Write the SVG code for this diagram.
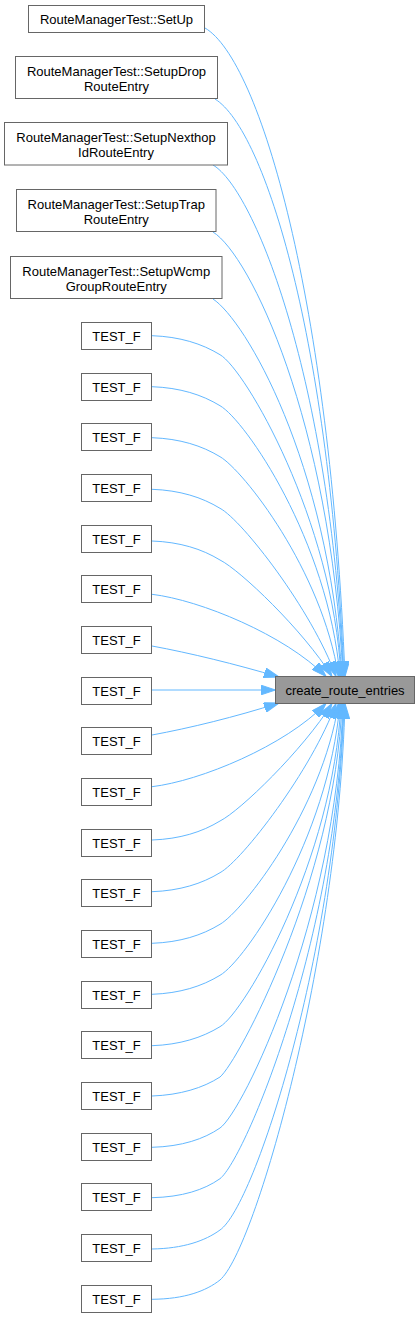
<svg xmlns="http://www.w3.org/2000/svg" width="420" height="1317" viewBox="0 0 420 1317">
<style>
.nd rect{fill:#ffffff;stroke:#666666;stroke-width:1}
.tg rect{fill:#999999;stroke:#666666;stroke-width:1}
text{font-family:"Liberation Sans",Arial,sans-serif;font-size:13px;fill:#000000;text-anchor:middle}
.ed path{fill:none;stroke:#63b8ff;stroke-width:1;marker-end:url(#ah)}
</style>
<defs>
<marker id="ah" markerUnits="userSpaceOnUse" markerWidth="15" markerHeight="10" refX="15" refY="5" orient="auto" viewBox="0 0 15 10">
<path d="M0,0 L15,5 L0,10 Z" fill="#63b8ff" stroke="#63b8ff" stroke-width="1"/>
</marker>
</defs>
<rect width="420" height="1317" fill="#ffffff"/>
<g id="edges" class="ed">
<path d="M205,28 C260,60 330,300 345,676.5"/>
<path d="M215,99 C265,130 330,340 344,676.5"/>
<path d="M213,165 C255,190 330,380 343.5,676.5"/>
<path d="M213,232 C250,255 330,420 343,676.5"/>
<path d="M213,299 C245,320 328,460 342,676.5"/>
<path d="M152,335.7 C180,336.7 202,343.7 220,354.7 C245,369 333,520 341,676.5"/>
<path d="M152,386.7 C180,387.7 202,394.7 220,405.7 C245,420 328,540 340,676.5"/>
<path d="M152,437.7 C180,438.7 202,445.7 220,456.7 C243,470 322,570 338.5,676.5"/>
<path d="M152,489.3 C180,490.3 202,497.3 220,508.3 C242,520 312,610 336,676.5"/>
<path d="M152,541 C180,542 202,549 220,560 C240,570 303,630 332,676.5"/>
<path d="M152,594.3 C200,600 285,635 326,676.5"/>
<path d="M152,646 C190,653 235,664 279,677"/>
<path d="M152,690 L275.5,690"/>
<path d="M152,735 C190,728 235,717 279,703"/>
<path d="M152,786.7 C200,781 285,746 326,703.5"/>
<path d="M152,840 C180,839 202,832 220,821 C240,811 303,750 332,703.5"/>
<path d="M152,891.7 C180,890.7 202,883.7 220,872.7 C242,860.7 312,770 336,703.5"/>
<path d="M152,943.3 C180,942.3 202,935.3 220,924.3 C243,911 322,810 338.5,703.5"/>
<path d="M152,994.3 C180,993.3 202,986.3 220,975.3 C245,961 328,840 340,703.5"/>
<path d="M152,1045.7 C180,1044.7 202,1037.7 220,1026.7 C245,1012 333,860 341,703.5"/>
<path d="M152,1096 C180,1095 203,1088 220,1077 C238,1062 335,880 342,703.5"/>
<path d="M152,1147.3 C182,1146.5 204,1139 220,1128 C243,1112 336,920 343,703.5"/>
<path d="M152,1197.7 C182,1197 204,1190 220,1178.7 C245,1159 337,940 343.5,703.5"/>
<path d="M152,1249 C183,1248.5 205,1241 220,1230 C255,1206 337,950 344,703.5"/>
<path d="M152,1299.3 C185,1299 206,1291 220,1280 C255,1250 338,960 345,703.5"/>
</g>
<g id="target" class="tg"><rect x="275.5" y="676.5" width="139" height="27"/><text x="345" y="694.7">create_route_entries</text></g>
<g id="n0" class="nd"><rect x="28.5" y="5.5" width="176" height="27"/><text x="116.5" y="23.5">RouteManagerTest::SetUp</text></g>
<g id="n1" class="nd"><rect x="15.5" y="56.5" width="202" height="42"/><text x="116.5" y="76">RouteManagerTest::SetupDrop</text><text x="116.5" y="91">RouteEntry</text></g>
<g id="n2" class="nd"><rect x="4.5" y="122.5" width="223" height="42.5"/><text x="116" y="142">RouteManagerTest::SetupNexthop</text><text x="116" y="157">IdRouteEntry</text></g>
<g id="n3" class="nd"><rect x="16.5" y="189.5" width="199.5" height="42"/><text x="116.25" y="209">RouteManagerTest::SetupTrap</text><text x="116.25" y="224">RouteEntry</text></g>
<g id="n4" class="nd"><rect x="10.5" y="256.5" width="211.5" height="42"/><text x="116.25" y="276">RouteManagerTest::SetupWcmp</text><text x="116.25" y="291">GroupRouteEntry</text></g>
<g id="t0" class="nd"><rect x="81.5" y="322.5" width="70" height="27"/><text x="116.5" y="340.5">TEST_F</text></g>
<g id="t1" class="nd"><rect x="81.5" y="373.5" width="70" height="27"/><text x="116.5" y="391.5">TEST_F</text></g>
<g id="t2" class="nd"><rect x="81.5" y="423.5" width="70" height="27"/><text x="116.5" y="441.5">TEST_F</text></g>
<g id="t3" class="nd"><rect x="81.5" y="474.5" width="70" height="27"/><text x="116.5" y="492.5">TEST_F</text></g>
<g id="t4" class="nd"><rect x="81.5" y="525.5" width="70" height="27"/><text x="116.5" y="543.5">TEST_F</text></g>
<g id="t5" class="nd"><rect x="81.5" y="575.5" width="70" height="27"/><text x="116.5" y="593.5">TEST_F</text></g>
<g id="t6" class="nd"><rect x="81.5" y="626.5" width="70" height="27"/><text x="116.5" y="644.5">TEST_F</text></g>
<g id="t7" class="nd"><rect x="81.5" y="677.5" width="70" height="27"/><text x="116.5" y="695.5">TEST_F</text></g>
<g id="t8" class="nd"><rect x="81.5" y="727.5" width="70" height="27"/><text x="116.5" y="745.5">TEST_F</text></g>
<g id="t9" class="nd"><rect x="81.5" y="778.5" width="70" height="27"/><text x="116.5" y="796.5">TEST_F</text></g>
<g id="t10" class="nd"><rect x="81.5" y="829.5" width="70" height="27"/><text x="116.5" y="847.5">TEST_F</text></g>
<g id="t11" class="nd"><rect x="81.5" y="879.5" width="70" height="27"/><text x="116.5" y="897.5">TEST_F</text></g>
<g id="t12" class="nd"><rect x="81.5" y="930.5" width="70" height="27"/><text x="116.5" y="948.5">TEST_F</text></g>
<g id="t13" class="nd"><rect x="81.5" y="981.5" width="70" height="27"/><text x="116.5" y="999.5">TEST_F</text></g>
<g id="t14" class="nd"><rect x="81.5" y="1031.5" width="70" height="27"/><text x="116.5" y="1049.5">TEST_F</text></g>
<g id="t15" class="nd"><rect x="81.5" y="1082.5" width="70" height="27"/><text x="116.5" y="1100.5">TEST_F</text></g>
<g id="t16" class="nd"><rect x="81.5" y="1133.5" width="70" height="27"/><text x="116.5" y="1151.5">TEST_F</text></g>
<g id="t17" class="nd"><rect x="81.5" y="1183.5" width="70" height="27"/><text x="116.5" y="1201.5">TEST_F</text></g>
<g id="t18" class="nd"><rect x="81.5" y="1234.5" width="70" height="27"/><text x="116.5" y="1252.5">TEST_F</text></g>
<g id="t19" class="nd"><rect x="81.5" y="1285.5" width="70" height="27"/><text x="116.5" y="1303.5">TEST_F</text></g>
</svg>
